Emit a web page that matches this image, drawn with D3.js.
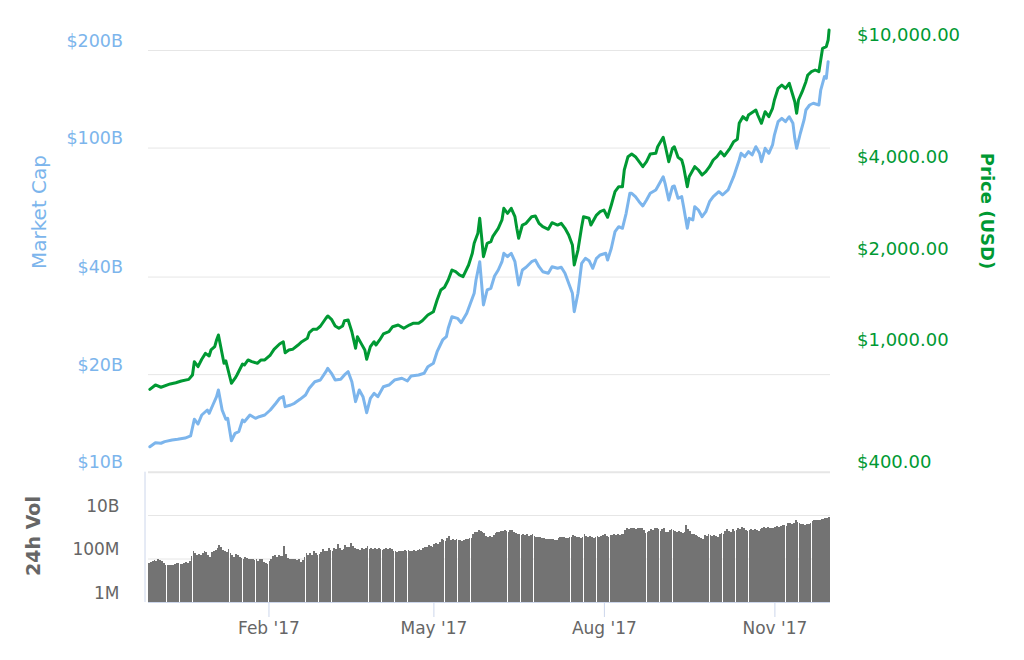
<!DOCTYPE html>
<html><head><meta charset="utf-8">
<script src="https://cdn.jsdelivr.net/npm/d3@7/dist/d3.min.js"></script>
<style>
html,body{margin:0;padding:0;background:#fff;}
svg{display:block;font-family:"DejaVu Sans","Lucida Grande",sans-serif;}
</style>
</head><body>
<svg id="chart" width="1024" height="660"></svg>
<script>
// ---------- DATA ----------
// Bitcoin price, USD
const priceSeries = [
["2016-11-29",740],["2016-12-02",765],["2016-12-05",752],["2016-12-10",771],["2016-12-13",778],["2016-12-16",788],["2016-12-20",798],["2016-12-22",825],["2016-12-23",912],["2016-12-25",878],["2016-12-27",929],["2016-12-29",971],["2016-12-31",952],
["2017-01-01",996],["2017-01-03",1021],["2017-01-04",1074],["2017-01-05",1115],["2017-01-08",901],["2017-01-09",917],["2017-01-12",775],["2017-01-14",805],["2017-01-15",825],["2017-01-18",896],["2017-01-19",889],["2017-01-21",924],["2017-01-23",912],["2017-01-26",901],["2017-01-28",924],["2017-01-30",924],
["2017-02-02",959],["2017-02-04",1001],["2017-02-07",1042],["2017-02-09",1060],["2017-02-10",976],["2017-02-12",996],["2017-02-14",1001],["2017-02-17",1034],["2017-02-19",1060],["2017-02-22",1088],["2017-02-23",1135],["2017-02-25",1164],["2017-02-27",1164],
["2017-03-01",1191],["2017-03-04",1265],["2017-03-05",1287],["2017-03-07",1255],["2017-03-09",1193],["2017-03-11",1173],["2017-03-13",1193],["2017-03-14",1242],["2017-03-16",1248],["2017-03-18",1143],["2017-03-20",1009],["2017-03-21",1101],["2017-03-23",1047],["2017-03-25",996],["2017-03-26",929],["2017-03-28",1021],["2017-03-30",1060],["2017-03-31",1034],
["2017-04-02",1074],["2017-04-04",1124],["2017-04-07",1143],["2017-04-09",1187],["2017-04-12",1202],["2017-04-15",1173],["2017-04-18",1202],["2017-04-20",1218],["2017-04-23",1218],["2017-04-25",1242],["2017-04-28",1297],
["2017-05-01",1329],["2017-05-03",1452],["2017-05-05",1566],["2017-05-07",1598],["2017-05-09",1688],["2017-05-11",1820],["2017-05-13",1797],["2017-05-15",1753],["2017-05-17",1731],["2017-05-20",1890],["2017-05-22",2065],["2017-05-23",2226],["2017-05-25",2400],["2017-05-26",2688],["2017-05-27",2340],["2017-05-28",2012],["2017-05-30",2226],
["2017-06-01",2253],["2017-06-02",2340],["2017-06-05",2492],["2017-06-07",2654],["2017-06-08",2898],["2017-06-10",2791],["2017-06-12",2898],["2017-06-14",2720],["2017-06-15",2492],["2017-06-16",2312],["2017-06-18",2555],["2017-06-20",2588],["2017-06-23",2720],["2017-06-25",2734],["2017-06-27",2588],["2017-06-29",2523],
["2017-07-02",2474],["2017-07-04",2600],["2017-07-07",2555],["2017-07-09",2588],["2017-07-11",2492],["2017-07-13",2370],["2017-07-15",2198],["2017-07-16",1890],["2017-07-18",2116],["2017-07-20",2523],["2017-07-21",2720],["2017-07-24",2688],["2017-07-25",2555],["2017-07-28",2755],["2017-07-30",2825],
["2017-08-01",2861],["2017-08-03",2708],["2017-08-05",2971],["2017-08-07",3284],["2017-08-09",3410],["2017-08-11",3410],["2017-08-12",3868],["2017-08-14",4277],["2017-08-16",4364],["2017-08-18",4277],["2017-08-20",4117],["2017-08-22",3966],["2017-08-24",4117],["2017-08-26",4364],["2017-08-29",4386],["2017-08-30",4610],
["2017-09-02",4949],["2017-09-03",4671],["2017-09-05",4117],["2017-09-07",4556],["2017-09-08",4610],["2017-09-10",4257],["2017-09-12",4171],["2017-09-13",3966],["2017-09-15",3410],["2017-09-16",3678],["2017-09-19",3966],["2017-09-21",3868],["2017-09-23",3725],["2017-09-25",3819],["2017-09-27",3966],["2017-09-29",4171],
["2017-10-01",4277],["2017-10-03",4440],["2017-10-05",4299],["2017-10-08",4556],["2017-10-10",4787],["2017-10-12",4875],["2017-10-13",5500],["2017-10-15",5781],["2017-10-17",5639],["2017-10-18",5855],["2017-10-22",6080],["2017-10-23",5855],["2017-10-25",5500],["2017-10-27",6004],["2017-10-29",5781],["2017-10-31",6159],
["2017-11-01",6557],["2017-11-03",7160],["2017-11-05",7341],["2017-11-07",7160],["2017-11-09",7436],["2017-11-12",6473],["2017-11-13",5931],["2017-11-14",6557],["2017-11-16",6980],["2017-11-18",7526],["2017-11-19",7915],["2017-11-21",8115],["2017-11-23",8220],["2017-11-25",8115],["2017-11-26",8863],["2017-11-27",9681],["2017-11-29",9799],["2017-11-30",10305],["2017-11-30T12:00Z",11112]
];

// Market cap, billions USD
const capSeries = [
["2016-11-29",11.94],["2016-12-02",12.29],["2016-12-05",12.24],["2016-12-07",12.38],["2016-12-11",12.53],["2016-12-14",12.59],["2016-12-18",12.70],["2016-12-21",12.89],["2016-12-23",14.51],["2016-12-25",14.03],["2016-12-27",14.96],["2016-12-30",15.50],["2016-12-31",15.14],
["2017-01-02",16.06],["2017-01-04",17.04],["2017-01-05",17.87],["2017-01-07",15.50],["2017-01-09",14.51],["2017-01-10",14.61],["2017-01-12",12.46],["2017-01-14",13.14],["2017-01-16",13.29],["2017-01-18",14.44],["2017-01-19",14.26],["2017-01-22",14.96],["2017-01-25",14.61],["2017-01-27",14.78],["2017-01-30",14.96],
["2017-02-02",15.50],["2017-02-05",16.26],["2017-02-07",16.84],["2017-02-09",17.04],["2017-02-10",15.87],["2017-02-13",16.06],["2017-02-15",16.26],["2017-02-18",16.72],["2017-02-21",17.24],["2017-02-23",18.08],["2017-02-26",18.95],
["2017-03-01",19.18],["2017-03-04",20.35],["2017-03-05",20.84],["2017-03-07",20.12],["2017-03-09",19.18],["2017-03-12",19.28],["2017-03-14",19.88],["2017-03-16",20.35],["2017-03-18",18.95],["2017-03-20",16.45],["2017-03-22",17.87],["2017-03-24",17.04],["2017-03-26",15.21],["2017-03-28",16.84],["2017-03-30",17.45],
["2017-04-01",17.04],["2017-04-04",18.29],["2017-04-07",18.51],["2017-04-10",19.18],["2017-04-14",19.42],["2017-04-17",19.05],["2017-04-19",19.74],["2017-04-23",19.88],["2017-04-26",20.12],["2017-04-28",21.08],
["2017-05-01",21.60],["2017-05-03",23.45],["2017-05-06",25.49],["2017-05-08",26.09],["2017-05-09",27.70],["2017-05-11",30.07],["2017-05-14",29.73],["2017-05-16",28.82],["2017-05-19",30.81],["2017-05-21",33.08],["2017-05-23",35.52],["2017-05-24",39.03],["2017-05-26",44.45],["2017-05-27",38.13],["2017-05-28",32.69],["2017-05-30",36.36],
["2017-06-01",36.80],["2017-06-03",40.16],["2017-06-05",41.91],["2017-06-07",44.45],["2017-06-08",47.20],["2017-06-10",46.07],["2017-06-12",47.20],["2017-06-14",44.45],["2017-06-16",37.67],["2017-06-18",41.91],["2017-06-20",42.72],["2017-06-23",44.45],["2017-06-25",44.99],["2017-06-27",42.90],["2017-06-29",41.40],
["2017-07-02",40.94],["2017-07-04",42.90],["2017-07-07",42.42],["2017-07-09",42.72],["2017-07-11",40.94],["2017-07-13",38.13],["2017-07-15",35.52],["2017-07-16",31.17],["2017-07-18",35.52],["2017-07-20",43.95],["2017-07-22",45.55],["2017-07-24",44.78],["2017-07-26",42.42],["2017-07-28",45.55],["2017-07-30",46.63],
["2017-08-02",47.20],["2017-08-03",44.99],["2017-08-05",48.90],["2017-08-07",55.02],["2017-08-09",57.01],["2017-08-11",56.36],["2017-08-13",62.70],["2017-08-15",72.27],["2017-08-16",72.27],["2017-08-18",70.55],["2017-08-20",68.08],["2017-08-22",66.04],["2017-08-24",68.91],["2017-08-26",72.27],["2017-08-29",73.99],["2017-08-30",75.74],
["2017-09-02",81.31],["2017-09-03",77.59],["2017-09-05",68.91],["2017-09-07",75.74],["2017-09-08",76.12],["2017-09-10",69.74],["2017-09-12",70.55],["2017-09-13",65.71],["2017-09-15",56.36],["2017-09-16",60.51],["2017-09-18",59.79],["2017-09-19",65.71],["2017-09-21",64.18],["2017-09-23",61.20],["2017-09-25",63.41],["2017-09-27",68.08],["2017-09-29",70.55],
["2017-10-02",73.09],["2017-10-04",71.40],["2017-10-07",73.99],["2017-10-10",81.31],["2017-10-13",91.56],["2017-10-14",96.02],["2017-10-16",93.73],["2017-10-18",97.12],["2017-10-20",94.87],["2017-10-22",100.6],["2017-10-24",96.02],["2017-10-25",90.45],["2017-10-27",99.50],["2017-10-29",96.02],["2017-10-31",101.9],
["2017-11-01",109.3],["2017-11-03",120.2],["2017-11-05",123.1],["2017-11-07",120.2],["2017-11-09",124.5],["2017-11-11",118.8],["2017-11-12",106.8],["2017-11-13",99.50],["2017-11-15",110.7],["2017-11-17",121.7],["2017-11-18",130.6],["2017-11-20",135.3],["2017-11-22",137.0],["2017-11-25",135.3],["2017-11-26",150.5],["2017-11-28",165.5],["2017-11-29",163.6],["2017-11-30",184.1]
];

// 24h volume, millions USD, one value per day starting at volumeStart
const volumeStart = "2016-11-28";
const volumeValues = [
65,70,80,85,78,90,82,
75,60,52,50,48,50,52,
55,62,60,58,55,62,70,
60,75,130,210,180,150,160,
140,170,210,190,150,120,200,
210,250,300,420,330,250,230,
200,260,180,150,120,160,140,
120,110,100,115,105,95,100,
90,85,92,80,100,90,72,
60,58,80,95,130,150,120,
140,125,130,360,160,110,95,
100,90,100,88,92,70,85,
120,170,150,180,140,210,170,
150,160,200,280,230,210,300,
250,230,320,270,480,300,250,
280,400,350,330,520,380,290,
260,280,250,300,260,320,360,
280,300,260,310,280,300,260,
250,280,300,270,290,260,230,
220,200,230,210,220,240,230,
240,210,230,250,220,240,260,
250,300,350,330,400,380,330,
450,520,480,600,800,700,650,
900,1100,700,750,700,800,720,
680,650,700,750,800,900,850,
1300,1600,1700,2100,1800,1700,1500,
1100,1000,1050,950,1200,1500,1600,
1600,1800,1900,2000,1800,1700,2100,
2000,1700,1500,1300,1400,1200,1300,
1200,1300,1100,1200,1400,1100,1000,
950,1000,900,880,820,800,760,
750,820,700,730,850,1000,950,
1000,900,880,950,1000,1200,1050,
950,1000,900,1000,1400,1100,1000,
1050,950,900,1000,1100,1000,1100,
1200,1400,1100,1000,1150,1200,1300,
1250,1350,1200,1400,1300,2100,2400,
2300,2500,2400,2600,2300,2400,2500,
2400,2000,1500,1600,1900,2300,2000,
2400,2600,2200,1900,2300,2500,1600,
1700,2000,2300,2100,1800,1700,1900,
1600,1500,1700,3500,2200,1800,1400,
1300,1200,1100,1000,900,800,1200,
1100,1300,1200,1100,1150,1050,1000,
1300,1500,1400,1900,2200,1800,1700,
2300,1800,2000,2500,2200,2700,2400,
2000,1900,2100,2200,2000,2300,2100,
1900,2300,2400,2900,2500,2700,2400,
2500,2600,2800,3200,2700,3000,3300,
3500,3200,4500,4200,3800,4300,5900,
5000,4300,4000,3700,3600,4000,3900,
4300,5500,6200,6000,5800,6200,6400,
6800,7000,7500,8000
];

// Axes: ticks and labels
const xDomain = ["2016-11-28","2017-12-01"];
const monthTicks = ["2017-02-01","2017-05-01","2017-08-01","2017-11-01"];
const monthTickLabels = ["Feb '17","May '17","Aug '17","Nov '17"];
const capTicks = [10,20,40,100,200];
const capTickLabels = ["$10B","$20B","$40B","$100B","$200B"];
const priceTicks = [400,1000,2000,4000,10000];
const priceTickLabels = ["$400.00","$1,000.00","$2,000.00","$4,000.00","$10,000.00"];
const volTicks = [1,100,10000];
const volTickLabels = ["1M","100M","10B"];

// ---------- DRAWING ----------
const C = {blue:"#7cb5ec", green:"#009933", grid:"#e6e6e6", axis:"#ccd6eb", text:"#666666", bar:"#737373"};
const L = {left:148, right:830, capTop:50, capBottom:471.7, priceTop:44, priceBottom:471, volTop:515, volBottom:602};

const svg = d3.select("#chart");
const parse = s => d3.isoParse(s.length === 10 ? s + "T00:00:00Z" : s);

const x = d3.scaleUtc().domain(xDomain.map(parse)).range([L.left, L.right]);
const yCap = d3.scaleLog().domain([10,200]).range([L.capBottom, L.capTop]);
const yPrice = d3.scaleLog().domain([400,10000]).range([L.priceBottom, L.priceTop]);
const yVol = d3.scaleLog().domain([1,10000]).range([L.volBottom, L.volTop]);

// gridlines (market cap axis)
const grid = svg.append("g").attr("transform",`translate(${L.left},0)`)
  .call(d3.axisRight(yCap).tickValues(capTicks).tickSize(L.right-L.left).tickFormat(""));
grid.select(".domain").remove();
grid.selectAll("line").attr("stroke",C.grid).attr("stroke-width",d=>d===10?2:1);

// gridlines (volume axis)
const vgrid = svg.append("g").attr("transform",`translate(${L.left},0)`)
  .call(d3.axisRight(yVol).tickValues(volTicks).tickSize(L.right-L.left).tickFormat(""));
vgrid.select(".domain").remove();
vgrid.selectAll("line").attr("stroke",C.grid);

// volume bars
const volData = volumeValues.map((v,i)=>({date:d3.utcDay.offset(parse(volumeStart),i), v}));
const barW = 1.76;
svg.append("g").attr("shape-rendering","crispEdges")
  .selectAll("rect").data(volData).join("rect")
  .attr("x",d=>{const c=x(d3.utcHour.offset(d.date,12)); return Math.round(c-barW/2);})
  .attr("width",d=>{const c=x(d3.utcHour.offset(d.date,12)); return Math.round(c+barW/2)-Math.round(c-barW/2);})
  .attr("y",d=>yVol(d.v))
  .attr("height",d=>L.volBottom-yVol(d.v))
  .attr("fill",C.bar);

// volume y-axis line
svg.append("line").attr("x1",145).attr("x2",145).attr("y1",L.capBottom).attr("y2",L.volBottom)
  .attr("stroke",C.axis).attr("stroke-width",1);

// x axis
const xAxis = svg.append("g").attr("transform",`translate(0,${L.volBottom})`)
  .call(d3.axisBottom(x).tickValues(monthTicks.map(parse)).tickSize(15).tickFormat((d,i)=>monthTickLabels[i]));
xAxis.select(".domain").attr("stroke",C.axis).attr("d",`M${L.left},0.5H${L.right}`);
xAxis.selectAll(".tick line").attr("stroke",C.axis);
xAxis.attr("font-family",null).attr("font-size",17);
xAxis.selectAll(".tick text").attr("fill",C.text).attr("y",32).attr("dy",0);

// left market-cap labels
const capAxis = svg.append("g").attr("transform","translate(123,0)")
  .call(d3.axisLeft(yCap).tickValues(capTicks).tickSize(0).tickPadding(0).tickFormat((d,i)=>capTickLabels[i]));
capAxis.select(".domain").remove();
capAxis.attr("font-family",null).attr("font-size",17.5);
capAxis.selectAll("text").attr("fill",C.blue).attr("dy",0).attr("y",-3.8);

// right price labels
const priceAxis = svg.append("g").attr("transform","translate(857,0)")
  .call(d3.axisRight(yPrice).tickValues(priceTicks).tickSize(0).tickPadding(0).tickFormat((d,i)=>priceTickLabels[i]));
priceAxis.select(".domain").remove();
priceAxis.attr("font-family",null).attr("font-size",18);
priceAxis.selectAll("text").attr("fill",C.green).attr("dy",0).attr("y",-3.5);

// volume labels
const volAxis = svg.append("g").attr("transform","translate(119.5,0)")
  .call(d3.axisLeft(yVol).tickValues(volTicks).tickSize(0).tickPadding(0).tickFormat((d,i)=>volTickLabels[i]));
volAxis.select(".domain").remove();
volAxis.attr("font-family",null).attr("font-size",17);
volAxis.selectAll("text").attr("fill",C.text).attr("dy",0).attr("y",-3.8);

// lines
const capLine = d3.line().x(d=>x(parse(d[0]))).y(d=>yCap(d[1]));
const priceLine = d3.line().x(d=>x(parse(d[0]))).y(d=>yPrice(d[1]));
svg.append("path").datum(capSeries).attr("d",capLine)
  .attr("fill","none").attr("stroke",C.blue).attr("stroke-width",3).attr("stroke-linejoin","round").attr("stroke-linecap","round");
svg.append("path").datum(priceSeries).attr("d",priceLine)
  .attr("fill","none").attr("stroke",C.green).attr("stroke-width",3).attr("stroke-linejoin","round").attr("stroke-linecap","round");

// axis titles
svg.append("text").attr("transform","translate(46,212) rotate(-90)").attr("text-anchor","middle")
  .attr("font-size",20).attr("fill",C.blue).text("Market Cap");
svg.append("text").attr("transform","translate(981,211) rotate(90)").attr("text-anchor","middle")
  .attr("font-size",18).attr("font-weight","bold").attr("fill",C.green).text("Price (USD)");
svg.append("text").attr("transform","translate(40,536) rotate(-90)").attr("text-anchor","middle")
  .attr("font-size",19).attr("font-weight","bold").attr("fill",C.text).text("24h Vol");
</script>
</body></html>
